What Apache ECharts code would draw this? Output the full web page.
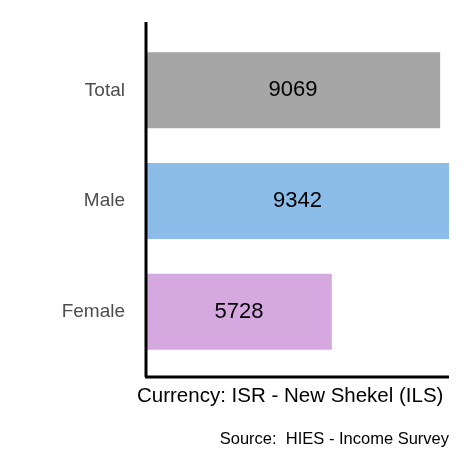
<!DOCTYPE html>
<html>
<head>
<meta charset="utf-8">
<script src="https://cdn.jsdelivr.net/npm/echarts@6/dist/echarts.min.js"></script>
<style>html,body{margin:0;padding:0;background:#fff}#c{width:472px;height:472px}</style>
</head>
<body>
<div id="c"></div>
<script>
var categories = ['Female', 'Male', 'Total'];
var values = [5728, 9342, 9069];
var colors = ['#d5a8e0', '#8bbde8', '#a6a6a6'];

var chart = echarts.init(document.getElementById('c'));
chart.setOption({
    animation: false,
    grid: { left: 146, right: 23, top: 35, bottom: 105 },
    xAxis: {
        type: 'value', min: 0, max: 9342,
        axisLine: { show: false }, axisTick: { show: false },
        axisLabel: { show: false }, splitLine: { show: false }
    },
    yAxis: {
        type: 'category', data: categories, z: 5,
        axisLine: { show: false },
        axisTick: { alignWithLabel: true, length: 10, lineStyle: { color: '#333', width: 3 } },
        axisLabel: { color: '#4d4d4d', fontSize: 19, fontFamily: 'Liberation Sans', margin: 21 }
    },
    series: [{
        type: 'bar',
        barWidth: 76,
        data: values.map(function (v, i) { return { value: v, itemStyle: { color: colors[i] } }; }),
        label: { show: true, position: 'inside', color: '#000', fontSize: 22, fontFamily: 'Liberation Sans' }
    }],
    graphic: [
        { type: 'line', z: 10, shape: { x1: 146, y1: 22, x2: 146, y2: 377 }, style: { stroke: '#000', lineWidth: 3 } },
        { type: 'line', z: 10, shape: { x1: 145, y1: 377, x2: 449, y2: 377 }, style: { stroke: '#000', lineWidth: 3 } },
        { type: 'text', left: 137, top: 386, style: { text: 'Currency: ISR - New Shekel (ILS)', fontSize: 20.5, fontFamily: 'Liberation Sans', fill: '#000' } },
        { type: 'text', right: 23, top: 431, style: { text: 'Source:  HIES - Income Survey', fontSize: 16.5, fontFamily: 'Liberation Sans', fill: '#000' } }
    ]
});
</script>
</body>
</html>
